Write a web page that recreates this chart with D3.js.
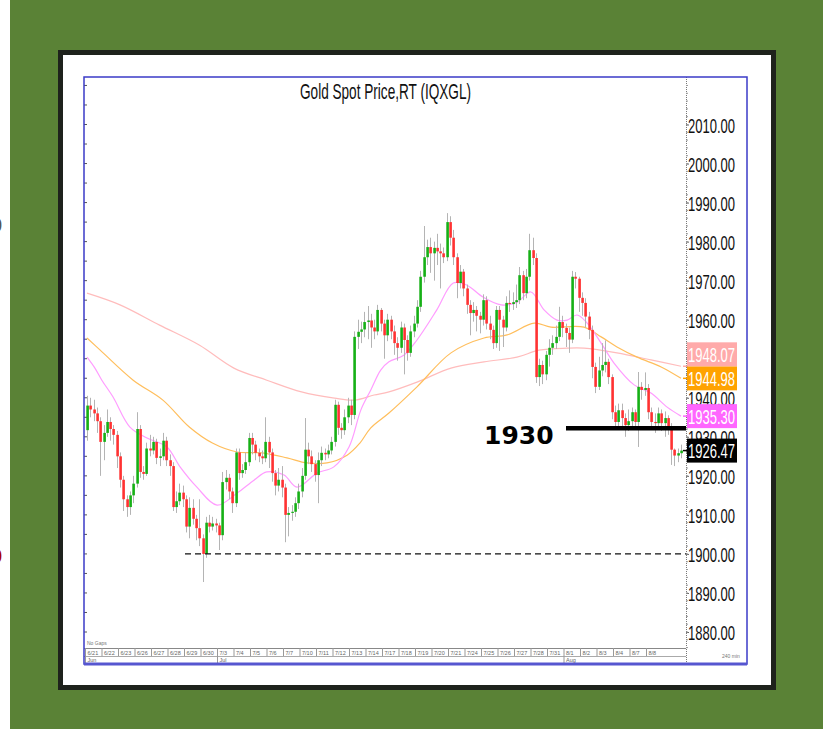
<!DOCTYPE html>
<html lang="en">
<head>
<meta charset="UTF-8" />
<title>Gold Spot Price</title>
<style>
  body { margin: 0; background: #fff; }
  svg { display: block; }
</style>
</head>
<body>
<div class="chart"></div>
<script src="https://d3js.org/d3.v7.min.js"></script>
<script>
// 240 min candles
const opens = [
  1931.7,1938,1937,1936,1934,1928.7,1931,1933.8,1932,1930.5,
  1925,1919,1914,1912,1915,1918,1932,1921,1920.5,1927,
  1926.5,1928.7,1924.6,1925,1929,1924,1922.5,1912,1913.5,1915.7,
  1914,1907,1911.8,1909,1906.6,1904,1900,1908,1907,1907.8,
  1907.3,1904.8,1918.4,1919.5,1916,1913,1926,1920.7,1921.5,1923.5,
  1929.7,1928,1925.9,1925,1924.5,1928.7,1926,1920.7,1917.5,1919,
  1917,1910,1910.5,1910.8,1913,1916,1920,1926.7,1925,1923,
  1920.2,1924,1925.9,1925.5,1926.5,1928.7,1938.2,1932.3,1931.7,1935,
  1938,1935.6,1955.6,1956.9,1957.5,1959.4,1959.8,1958,1957,1962.5,
  1959,1956,1960,1957,1954,1952.8,1958,1954.8,1951.5,1957,
  1959,1963.3,1971,1976,1978.6,1977,1978.4,1977.5,1977,1976,
  1985,1981,1976,1969.4,1972.3,1968,1963.8,1961.7,1962.5,1961,
  1960,1965,1959,1957.4,1954,1962.5,1960,1958,1964.3,1964,
  1964.5,1965,1971.4,1966.8,1971,1977.8,1975.8,1945.3,1948.4,1946,
  1951,1952.8,1954,1955.6,1959.4,1957.9,1956.6,1954.9,1971,1970.5,
  1965.6,1964.3,1960.8,1957.4,1947.9,1942.8,1947,1948.4,1949.2,1945.3,
  1936.3,1933.8,1936.8,1934.8,1933,1934,1936.3,1933.8,1942.8,1942,
  1942.5,1936.3,1933.8,1933.5,1936,1933.5,1934.8,1932.6,1926.7,1925.2,
  1925.8
]
const highs = [
  1940.5,1940,1939.5,1937.5,1935,1933,1937,1935,1933,1931.5,
  1926,1920,1915,1916,1920,1936.3,1933,1922.5,1928.5,1930.5,
  1930,1929.5,1927,1931,1930,1925.5,1923.5,1916,1918,1917.5,
  1915,1914.5,1914,1910,1914,1905,1909.5,1910,1909.5,1909,
  1908,1921,1921.5,1920.5,1917,1927,1927,1923,1926,1931,
  1931,1929,1927,1926.5,1935,1930,1927,1921.5,1922,1922.5,
  1918,1912,1912.5,1914.5,1918,1922,1934.8,1928.5,1926.5,1924,
  1926,1927.5,1927,1928,1930,1939.5,1939,1933.5,1937,1940,
  1939.5,1957,1960,1959.5,1962,1963.5,1961.5,1960,1963.8,1963,
  1960,1961.5,1961,1958.5,1955.5,1959.5,1959,1956,1958.5,1961,
  1965,1972.5,1984,1980.5,1981,1980,1982,1979.5,1978.5,1987.3,
  1986.5,1983,1977,1974,1973,1969,1965,1964.5,1963.5,1962,
  1966.5,1966,1961,1958.5,1963.5,1963.5,1961,1966,1967.5,1967,
  1969,1973.5,1972.5,1973,1982,1981,1977,1950,1949.5,1952,
  1955,1956,1958.5,1963.3,1961,1959,1958,1972.5,1972.2,1971,
  1967,1965.5,1962,1958.5,1949,1950.5,1954,1954.7,1950,1946,
  1938,1938.5,1938.5,1936,1937,1937.5,1937,1946.6,1944,1946.5,
  1943.5,1937.5,1936,1937.5,1937,1936.5,1935.5,1933.5,1927,1927,
  1928
]
const lows = [
  1929,1935,1934,1931,1920,1924,1930,1929,1928,1922,
  1917,1911,1909.5,1910,1913,1917,1919.5,1919,1920,1925,
  1925.5,1923,1922.5,1924,1922.5,1920,1911,1910.5,1912.5,1912,
  1905.5,1904,1907.5,1903.5,1902,1892.8,1899,1905.5,1906,1905.5,
  1901,1903.5,1916.5,1914,1910.5,1912,1919,1919.5,1920.5,1922.5,
  1925.5,1924,1923.5,1923,1923.5,1922,1918.5,1915,1916,1914.5,
  1903,1904.5,1908.5,1909.5,1911.5,1914.5,1919,1923,1921,1918.5,
  1913,1922.5,1924,1924.5,1925.5,1927.5,1930.5,1929.5,1930.5,1933.5,
  1933,1934.5,1952.5,1954,1955.5,1955,1952.8,1955,1956,1957,
  1950,1954.5,1955,1951,1949.5,1951.5,1946,1949.5,1950.5,1955.5,
  1958,1962,1969.5,1974,1972,1970,1974,1968,1974.5,1975,
  1979,1974,1965.5,1968,1966,1961.5,1956,1959.5,1957,1956.5,
  1958.5,1957.5,1955,1952.5,1952.8,1952,1953,1957,1962,1962.5,
  1963,1964,1965,1965.5,1970,1974,1943.8,1943,1943.5,1944.5,
  1948,1951,1952.5,1954.5,1955.5,1953,1951.5,1954,1968,1962,
  1961,1958,1955,1945,1941.2,1942,1945.5,1946.5,1943.5,1934.5,
  1932,1932.5,1932.5,1930,1931.5,1932.5,1932,1927.4,1939.5,1940.5,
  1934.5,1932,1931,1932,1931.5,1930,1930.5,1922.8,1922.5,1923.5,
  1924.5
]
const closes = [
  1938,1937,1936,1934,1928.7,1931,1933.8,1932,1930.5,1925,
  1919,1914,1912,1915,1918,1932,1921,1920.5,1927,1926.5,
  1928.7,1924.6,1925,1929,1924,1922.5,1912,1913.5,1915.7,1914,
  1907,1911.8,1909,1906.6,1904,1900,1908,1907,1907.8,1907.3,
  1904.8,1918.4,1919.5,1916,1913,1926,1920.7,1921.5,1923.5,1929.7,
  1928,1925.9,1925,1924.5,1928.7,1926,1920.7,1917.5,1919,1917,
  1910,1910.5,1910.8,1913,1916,1920,1926.7,1925,1923,1920.2,
  1924,1925.9,1925.5,1926.5,1928.7,1938.2,1932.3,1931.7,1935,1938,
  1935.6,1955.6,1956.9,1957.5,1959.4,1959.8,1958,1957,1962.5,1959,
  1956,1960,1957,1954,1952.8,1958,1954.8,1951.5,1957,1959,
  1963.3,1971,1976,1978.6,1977,1978.4,1977.5,1977,1976,1985,
  1981,1976,1969.4,1972.3,1968,1963.8,1961.7,1962.5,1961,1960,
  1965,1959,1957.4,1954,1962.5,1960,1958,1964.3,1964,1964.5,
  1965,1971.4,1966.8,1971,1977.8,1975.8,1945.3,1948.4,1946,1951,
  1952.8,1954,1955.6,1959.4,1957.9,1956.6,1954.9,1971,1970.5,1965.6,
  1964.3,1960.8,1957.4,1947.9,1942.8,1947,1948.4,1949.2,1945.3,1936.3,
  1933.8,1936.8,1934.8,1933,1934,1936.3,1933.8,1942.8,1942,1942.5,
  1936.3,1933.8,1933.5,1936,1933.5,1934.8,1932.6,1926.7,1925.2,1925.8,
  1926.47
]

// moving averages, sampled [candle index, price]
const maFast = [[0,1950.4],[2.4,1947.6],[4.5,1944.5],[7.9,1940.2],[13,1932.5],[18.2,1929.7],[24.2,1927.4],[28.2,1922.3],[33.3,1917.1],[39.4,1912.5],[45.5,1915.6],[50.6,1918.9],[54.5,1921],[59.7,1920.2],[63.6,1917.1],[69.7,1920.7],[74.8,1922.3],[79.4,1927.4],[83,1936.9],[86,1942],[89,1947.1],[91.5,1949.2],[96,1950.9],[100,1954.8],[106,1962.5],[111,1969.4],[115,1968.9],[120,1965.8],[125.5,1963.8],[130.3,1964.5],[134.5,1967.1],[138.5,1962.5],[142.4,1959.9],[145.5,1959.9],[148.5,1961.2],[151.5,1959.2],[155.8,1954],[159.7,1948.9],[165.8,1943.3],[170.9,1941.2],[175.8,1937.6],[180,1935.3]]
const maMid = [[0,1955.3],[4,1952.2],[14,1944.5],[23,1939.4],[31,1932.5],[38,1928.4],[45.5,1926.1],[53,1925.9],[60.6,1924.6],[66.7,1923.3],[72.7,1923.3],[78.8,1925.3],[82.7,1928.4],[86,1932.3],[91.5,1936.1],[100,1942.8],[110.3,1951.5],[120.3,1955.3],[127.3,1956.1],[135.5,1959.1],[140.6,1958.1],[150.6,1958.1],[155.8,1955.6],[160.6,1953],[166.7,1950.4],[174,1947.9],[180,1944.98]]
const maSlow = [[0,1966.8],[10,1963.8],[22,1958.6],[34,1953.5],[44.5,1947.6],[54.5,1944.5],[65,1941.5],[75,1939.9],[81,1939.4],[87,1940.7],[91.5,1941.5],[100,1944],[110.3,1947.6],[120.3,1949.2],[130.3,1950.4],[137,1952.2],[145.5,1952.7],[150.6,1952.7],[160.6,1951.5],[170.9,1949.7],[180,1948.07]]

const lastLabels = [
  { value: 1948.07, fill: '#ffaaaa', text: '#fff' },
  { value: 1944.98, fill: '#ffa200', text: '#fff' },
  { value: 1935.30, fill: '#ff66ff', text: '#fff' },
  { value: 1926.47, fill: '#000000', text: '#fff' }
]

const yTicks = [1880, 1890, 1900, 1910, 1920, 1930, 1940, 1950, 1960, 1970, 1980, 1990, 2000, 2010]
// 1950.00 sits fully under the value boxes, so it is not labelled
const yLabels = [1880, 1890, 1900, 1910, 1920, 1930, 1940, 1960, 1970, 1980, 1990, 2000, 2010]
const dayLabels = ['6/21','6/22','6/23','6/26','6/27','6/28','6/29','6/30','7/3','7/4','7/5','7/6','7/7','7/10','7/11','7/12','7/13','7/14','7/17','7/18','7/19','7/20','7/21','7/24','7/25','7/26','7/27','7/28','7/31','8/1','8/2','8/3','8/4','8/7','8/8']
const dayStart = [0,5,10,15,20,25,30,35,40,45,50,55,60,65,70,75,80,85,90,95,100,105,110,115,120,125,130,135,140,145,150,155,160,165,170]
const months = [['Jun', 0], ['Jul', 40], ['Aug', 145]]
const supportLevel = 1900
const markLevel = 1932.2

const W = 823, H = 729
const plot = { left: 84, right: 686, top: 77, bottom: 648 }

const svg = d3.select('.chart').append('svg')
  .attr('width', W).attr('height', H)

// slide background
svg.append('rect').attr('width', W).attr('height', H).attr('fill', '#fff')
svg.append('rect').attr('x', 10).attr('width', W - 10).attr('height', H).attr('fill', '#5a8236')
svg.append('rect').attr('x', 60.5).attr('y', 52.5).attr('width', 713).attr('height', 635)
  .attr('fill', '#fff').attr('stroke', '#1e221c').attr('stroke-width', 5)
// clipped bits of text on the far left
svg.append('text').attr('x', -9).attr('y', 232).attr('font-size', 20)
  .attr('font-family', 'Liberation Sans, sans-serif').attr('fill', '#555').text('0')
svg.append('text').attr('x', -9).attr('y', 563).attr('font-size', 20)
  .attr('font-family', 'Liberation Sans, sans-serif').attr('fill', '#a00').text('0')

const x = d3.scaleLinear().domain([0, 180]).range([87, 681])
const y = d3.scaleLinear().domain([1880, 2010]).range([632, 124.5])

svg.append('clipPath').attr('id', 'plotclip').append('rect')
  .attr('x', plot.left).attr('y', plot.top)
  .attr('width', plot.right - plot.left).attr('height', plot.bottom - plot.top)

// left edge ticks
const leftTicks = d3.range(1880, 2021, 5)
svg.append('g').selectAll('line').data(leftTicks).join('line')
  .attr('x1', plot.left).attr('x2', plot.left + 3)
  .attr('y1', d => y(d)).attr('y2', d => y(d))
  .attr('stroke', '#555').attr('stroke-width', 1)

// moving averages
const maLine = d3.line().x(d => x(d[0])).y(d => y(d[1])).curve(d3.curveCatmullRom)
const maG = svg.append('g').attr('clip-path', 'url(#plotclip)')
maG.append('path').datum(maSlow).attr('d', maLine).attr('fill', 'none')
  .attr('stroke', '#ffbcbc').attr('stroke-width', 1.2)
maG.append('path').datum(maMid).attr('d', maLine).attr('fill', 'none')
  .attr('stroke', '#ffbe5c').attr('stroke-width', 1.2)
maG.append('path').datum(maFast).attr('d', maLine).attr('fill', 'none')
  .attr('stroke', '#ff9cff').attr('stroke-width', 1.2)

// candles
const candles = closes.map((c, i) => ({ i, o: opens[i], h: highs[i], l: lows[i], c }))
const cg = svg.append('g').attr('clip-path', 'url(#plotclip)')
cg.selectAll('line').data(candles).join('line')
  .attr('x1', d => Math.round(x(d.i)) + 0.5).attr('x2', d => Math.round(x(d.i)) + 0.5)
  .attr('y1', d => y(d.h)).attr('y2', d => y(d.l))
  .attr('stroke', '#b4b4b4').attr('stroke-width', 1)
cg.selectAll('rect').data(candles).join('rect')
  .attr('x', d => Math.round(x(d.i)) - 0.7)
  .attr('y', d => y(Math.max(d.o, d.c)))
  .attr('width', 2.6)
  .attr('height', d => Math.max(1, Math.abs(y(d.o) - y(d.c))))
  .attr('fill', d => d.c >= d.o ? '#16b016' : '#ff3232')

// 1900 support
svg.append('line')
  .attr('x1', 185).attr('x2', plot.right)
  .attr('y1', y(supportLevel)).attr('y2', y(supportLevel))
  .attr('stroke', '#111').attr('stroke-width', 1.4).attr('stroke-dasharray', '6,4')

// right axis
const yAxis = d3.axisRight(y).tickValues(yTicks).tickSize(3)
  .tickFormat(d => yLabels.includes(d) ? d3.format('.2f')(d) : '')
const ax = svg.append('g').attr('transform', `translate(${plot.right},0)`).call(yAxis)
ax.select('.domain').remove()
ax.selectAll('line').attr('stroke', '#666')
ax.selectAll('text')
  .attr('x', 2).attr('dy', '0.36em')
  .attr('font-family', 'Liberation Sans Narrow, Liberation Sans, Arial, sans-serif')
  .attr('font-size', 21).attr('fill', '#111')
  .attr('textLength', 47).attr('lengthAdjust', 'spacingAndGlyphs')
ax.selectAll('text').filter(d => !yLabels.includes(d)).remove()
svg.append('line')
  .attr('x1', plot.right + 0.5).attr('x2', plot.right + 0.5)
  .attr('y1', plot.top).attr('y2', 664)
  .attr('stroke', '#777').attr('stroke-width', 1).attr('stroke-dasharray', '1,1')
svg.append('g').selectAll('line').data(d3.range(1876, 2022, 2)).join('line')
  .attr('x1', plot.right).attr('x2', plot.right + 2)
  .attr('y1', d => y(d)).attr('y2', d => y(d))
  .attr('stroke', '#999')

// last value boxes, pushed up when they overlap
const boxH = 24
const boxes = lastLabels.map(d => ({ ...d, cy: y(d.value) })).sort((a, b) => b.cy - a.cy)
for (let k = 1; k < boxes.length; k++) {
  if (boxes[k - 1].cy - boxes[k].cy < boxH) boxes[k].cy = boxes[k - 1].cy - boxH
}
const bg = svg.append('g').selectAll('g').data(boxes).join('g')
  .attr('transform', d => `translate(${plot.right + 1},${d.cy})`)
bg.append('rect').attr('x', 0).attr('y', -boxH / 2).attr('width', 50).attr('height', boxH)
  .attr('fill', d => d.fill)
bg.append('text').attr('x', 1).attr('dy', '0.36em')
  .attr('font-family', 'Liberation Sans Narrow, Liberation Sans, Arial, sans-serif')
  .attr('font-size', 21).attr('fill', d => d.text)
  .attr('textLength', 47).attr('lengthAdjust', 'spacingAndGlyphs')
  .text(d => d.value.toFixed(2))
svg.append('g').selectAll('line').data(lastLabels).join('line')
  .attr('x1', plot.right - 3).attr('x2', plot.right + 1)
  .attr('y1', d => y(d.value)).attr('y2', d => y(d.value))
  .attr('stroke', d => d.fill).attr('stroke-width', 1.5)

// 1930 marker
svg.append('line')
  .attr('x1', 566).attr('x2', plot.right)
  .attr('y1', y(markLevel)).attr('y2', y(markLevel))
  .attr('stroke', '#000').attr('stroke-width', 4.5)
svg.append('text').attr('x', 484).attr('y', 444)
  .attr('font-family', 'DejaVu Sans, Verdana, sans-serif').attr('font-weight', 'bold')
  .attr('font-size', 25).attr('fill', '#000').text('1930')

// date strip
const strip = svg.append('g')
strip.append('line').attr('x1', plot.left).attr('x2', plot.right)
  .attr('y1', plot.bottom + 0.5).attr('y2', plot.bottom + 0.5).attr('stroke', '#888')
strip.append('line').attr('x1', plot.left).attr('x2', plot.right)
  .attr('y1', 656.5).attr('y2', 656.5).attr('stroke', '#aaa')
strip.selectAll('.dtick').data(dayStart).join('line').attr('class', 'dtick')
  .attr('x1', d => x(d) - 1.5).attr('x2', d => x(d) - 1.5)
  .attr('y1', plot.bottom).attr('y2', 656)
  .attr('stroke', '#999')
strip.selectAll('.dlab').data(dayLabels).join('text').attr('class', 'dlab')
  .attr('x', (d, i) => x(dayStart[i]) + 0.5).attr('y', 655)
  .attr('font-family', 'Liberation Sans, Arial, sans-serif').attr('font-size', 5.5)
  .attr('fill', '#666').text(d => d)
strip.selectAll('.mtick').data(months).join('line').attr('class', 'mtick')
  .attr('x1', d => x(d[1]) - 1.5).attr('x2', d => x(d[1]) - 1.5)
  .attr('y1', 656).attr('y2', 663).attr('stroke', '#999')
strip.selectAll('.mlab').data(months).join('text').attr('class', 'mlab')
  .attr('x', d => x(d[1]) + 0.5).attr('y', 662)
  .attr('font-family', 'Liberation Sans, Arial, sans-serif').attr('font-size', 5.5)
  .attr('fill', '#666').text(d => d[0])
svg.append('text').attr('x', 87).attr('y', 645)
  .attr('font-family', 'Liberation Sans, Arial, sans-serif').attr('font-size', 5)
  .attr('fill', '#777').text('No Gaps')
svg.append('text').attr('x', 722).attr('y', 658)
  .attr('font-family', 'Liberation Sans, Arial, sans-serif').attr('font-size', 5)
  .attr('fill', '#777').text('240 min')

// chart frame
svg.append('rect').attr('x', 84).attr('y', 77).attr('width', 663).attr('height', 587)
  .attr('fill', 'none').attr('stroke', '#3b3bc8').attr('stroke-width', 1.5)
svg.append('line').attr('x1', 84).attr('x2', 747).attr('y1', 664).attr('y2', 664)
  .attr('stroke', '#5656d0').attr('stroke-width', 3)

// title
svg.append('text').attr('x', 300).attr('y', 99)
  .attr('font-family', 'Liberation Sans Narrow, Liberation Sans, Arial, sans-serif')
  .attr('font-size', 22).attr('fill', '#111')
  .attr('textLength', 171).attr('lengthAdjust', 'spacingAndGlyphs')
  .text('Gold  Spot  Price,RT  (IQXGL)')
</script>
</body>
</html>
